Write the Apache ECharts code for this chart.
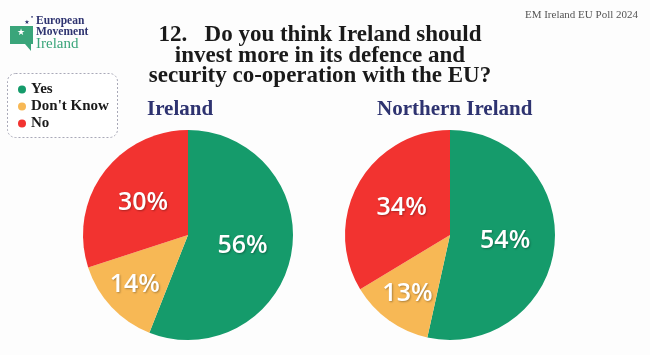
<!DOCTYPE html>
<html>
<head>
<meta charset="utf-8">
<script src="https://cdn.jsdelivr.net/npm/echarts@6/dist/echarts.min.js"></script>
<style>
html,body{margin:0;padding:0;background:#fdfdfd;}
#chart{width:650px;height:355px;}
</style>
</head>
<body>
<div id="chart"></div>
<script>
const categories = ['Yes', "Don't Know", 'No'];
const irelandValues = [56, 14, 30];
const northernIrelandValues = [54, 13, 34];
const regionNames = ['Ireland', 'Northern Ireland'];
const titleLines = ['12.   Do you think Ireland should', 'invest more in its defence and', 'security co-operation with the EU?'];
const sourceText = 'EM Ireland EU Poll 2024';
const logoLines = ['European', 'Movement', 'Ireland'];

const colors = ['#159b6b', '#f7b855', '#f23330'];
const SERIF = '"Liberation Serif", "DejaVu Serif", serif';

function pieData(values, labelFor) {
  return categories.map((name, i) => ({
    name: name,
    value: values[i],
    itemStyle: { color: colors[i] },
    label: { show: labelFor(i) }
  }));
}

const labelStyle = {
  position: 'inside',
  formatter: '{c}%',
  color: '#ffffff',
  fontFamily: '"Open Sans", Lato, sans-serif',
  fontWeight: 600,
  fontSize: 25,
  textShadowColor: 'rgba(0,0,0,0.3)',
  textShadowBlur: 2,
  textShadowOffsetX: 1,
  textShadowOffsetY: 1
};

function mainPie(values, cx) {
  return {
    type: 'pie',
    center: [cx, 235],
    radius: [0, 105],
    startAngle: 90,
    clockwise: true,
    silent: true,
    label: labelStyle,
    labelLine: { show: false },
    data: pieData(values, i => i !== 1)
  };
}
function labelPie(values, cx) {
  return {
    type: 'pie',
    center: [cx, 235],
    radius: [0, 140],
    startAngle: 90,
    clockwise: true,
    silent: true,
    z: 5,
    label: labelStyle,
    labelLine: { show: false },
    itemStyle: { color: 'rgba(0,0,0,0)', opacity: 0 },
    data: categories.map((name, i) => ({
      name: name, value: values[i],
      itemStyle: { color: 'rgba(0,0,0,0)', opacity: 0 },
      label: { show: i === 1, opacity: 1 }
    }))
  };
}

function txt(x, y, text, font, fill, align) {
  return {
    type: 'text', x: x, y: y, silent: true,
    style: { text: text, font: font, fill: fill, textAlign: align || 'left', align: align || 'left', textVerticalAlign: 'middle', verticalAlign: 'middle' }
  };
}

const graphics = [
  // logo
  { type: 'polygon', silent: true, shape: { points: [[10,26],[33,26],[33,44],[31,44],[31,51],[25,44],[10,44]] }, style: { fill: '#3aa57a' } },
  txt(21, 33, '★', '9px "DejaVu Sans"', '#ffffff', 'center'),
  txt(27, 22, '★', '6px "DejaVu Sans"', '#2e3370', 'center'),
  txt(32, 17, '•', '6px "DejaVu Sans"', '#2e3370', 'center'),
  txt(36, 21, logoLines[0], 'bold 11.5px ' + SERIF, '#2e3370'),
  txt(36, 32, logoLines[1], 'bold 11.5px ' + SERIF, '#2e3370'),
  txt(36, 44, logoLines[2], '15px ' + SERIF, '#3aa57a'),
  // source
  txt(638, 15, sourceText, '11px ' + SERIF, '#555555', 'right'),
  // title
  txt(320, 35, titleLines[0], 'bold 23px ' + SERIF, '#1a1a1a', 'center'),
  txt(320, 56, titleLines[1], 'bold 23px ' + SERIF, '#1a1a1a', 'center'),
  txt(320, 76, titleLines[2], 'bold 23px ' + SERIF, '#1a1a1a', 'center'),
  // region names
  txt(147, 110, regionNames[0], 'bold 21px ' + SERIF, '#2e3370'),
  txt(377, 110, regionNames[1], 'bold 21px ' + SERIF, '#2e3370'),
  // legend box
  { type: 'rect', silent: true, z: -1, shape: { x: 7.5, y: 73.5, width: 110, height: 64, r: 8 }, style: { fill: '#ffffff', stroke: '#a9a9b8', lineWidth: 1, lineDash: [2, 2] } }
];

const chart = echarts.init(document.getElementById('chart'), null, { renderer: 'canvas' });
chart.setOption({
  backgroundColor: '#fdfdfd',
  animation: false,
  legend: {
    orient: 'vertical',
    left: 18,
    top: 82,
    padding: 0,
    itemGap: 2,
    itemWidth: 8,
    itemHeight: 8,
    icon: 'circle',
    selectedMode: false,
    data: categories,
    textStyle: { fontFamily: SERIF, fontWeight: 'bold', fontSize: 15, color: '#1a1a1a', padding: [0, 0, 0, 0] }
  },
  graphic: { elements: graphics },
  series: [
    mainPie(irelandValues, 188),
    labelPie(irelandValues, 188),
    mainPie(northernIrelandValues, 450),
    labelPie(northernIrelandValues, 450)
  ]
});
</script>
</body>
</html>
